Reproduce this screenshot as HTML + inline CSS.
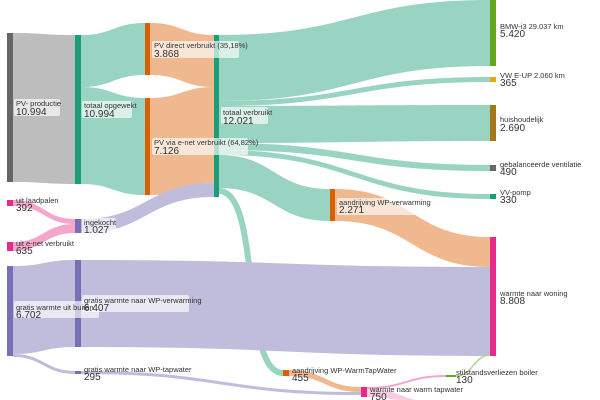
<!DOCTYPE html>
<html><head><meta charset="utf-8"><style>
body{margin:0;background:#fff}
svg{display:block;font-family:"Liberation Sans",Arial,sans-serif}
.n{font-size:7.5px;fill:#333}.v{font-size:10px;fill:#333}
</style></head><body>
<svg width="600" height="400" viewBox="0 0 600 400">
<g>
<path d="M13 33C44 33 44 35 75 35L75 184C44 184 44 182 13 182Z" fill="#bdbdbd"/>
<path d="M81 35C113 35 113 23 145 23L145 75C113 75 113 87 81 87Z" fill="#99d3c1"/>
<path d="M81 87C113 87 113 98 145 98L145 195C113 195 113 184 81 184Z" fill="#99d3c1"/>
<path d="M150 23C182 23 182 35 214 35L214 87C182 87 182 75 150 75Z" fill="#f0b88e"/>
<path d="M150 98C182 98 182 87 214 87L214 183C182 183 182 195 150 195Z" fill="#f0b88e"/>
<path d="M81 219C147 219 147 183 214 183L214 197C147 197 147 233 81 233Z" fill="#c0bcdc"/>
<path d="M13 200C44 200 44 219 75 219L75 224C44 224 44 206 13 206Z" fill="#f4a6cc"/>
<path d="M13 242C44 242 44 224 75 224L75 233C44 233 44 251 13 251Z" fill="#f4a6cc"/>
<path d="M219 35C354 35 354 0 490 0L490 66C354 66 354 101 219 101Z" fill="#99d3c1"/>
<path d="M219 101C354 101 354 77 490 77L490 82C354 82 354 106 219 106Z" fill="#99d3c1"/>
<path d="M219 106C354 106 354 105 490 105L490 141C354 141 354 143 219 143Z" fill="#99d3c1"/>
<path d="M219 143C354 143 354 165 490 165L490 171C354 171 354 150 219 150Z" fill="#99d3c1"/>
<path d="M219 150C354 150 354 194 490 194L490 199C354 199 354 155 219 155Z" fill="#99d3c1"/>
<path d="M219 155C274 155 274 189 330 189L330 221C274 221 274 188 219 188Z" fill="#99d3c1"/>
<path d="M219 191C262 191 240 373 283 373" fill="none" stroke="#99d3c1" stroke-width="6"/>
<path d="M335 189C412 189 412 237 490 237L490 267C412 267 412 221 335 221Z" fill="#f0b88e"/>
<path d="M81 260C285 260 285 267 490 267L490 356C285 356 285 347 81 347Z" fill="#c0bcdc"/>
<path d="M13 266C44 266 44 260 75 260L75 347C44 347 44 354 13 354Z" fill="#c0bcdc"/>
<path d="M13 355.5C44 355.5 44 372.5 75 372.5" fill="none" stroke="#c0bcdc" stroke-width="3"/>
<path d="M81 372.5C221 372.5 221 393.5 361 393.5" fill="none" stroke="#c0bcdc" stroke-width="3"/>
<path d="M289 370C325 370 325 387 361 387L361 392C325 392 325 376 289 376Z" fill="#f0b88e"/>
<path d="M367 388C406 388 406 376 446 376" fill="none" stroke="#f4a6cc" stroke-width="2"/>
<path d="M367 389C400 389 400 400 430 402L420 402C400 402 390 397 367 397Z" fill="#f8cce2"/>
<path d="M456 376C473 376 473 356 490 355" fill="none" stroke="#a8d68a" stroke-width="1.5"/>
</g>
<rect x="7" y="33" width="6" height="149" fill="#666"/>
<rect x="75" y="35" width="6" height="149" fill="#1b9e77"/>
<rect x="145" y="23" width="5" height="52" fill="#d95f02"/>
<rect x="145" y="98" width="5" height="97" fill="#d95f02"/>
<rect x="214" y="35" width="5" height="162" fill="#1b9e77"/>
<rect x="490" y="0" width="6" height="66" fill="#66a61e"/>
<rect x="490" y="77" width="6" height="5" fill="#e6ab02"/>
<rect x="490" y="105" width="6" height="36" fill="#a6761d"/>
<rect x="490" y="165" width="6" height="6" fill="#666"/>
<rect x="490" y="194" width="6" height="5" fill="#1b9e77"/>
<rect x="330" y="189" width="5" height="32" fill="#d95f02"/>
<rect x="490" y="237" width="6" height="119" fill="#e7298a"/>
<rect x="7" y="200" width="6" height="6" fill="#e7298a"/>
<rect x="7" y="242" width="6" height="9" fill="#e7298a"/>
<rect x="75" y="219" width="6" height="14" fill="#7570b3"/>
<rect x="7" y="266" width="6" height="90" fill="#7570b3"/>
<rect x="75" y="260" width="6" height="87" fill="#7570b3"/>
<rect x="75" y="371" width="6" height="3" fill="#7570b3"/>
<rect x="283" y="370" width="6" height="6" fill="#d95f02"/>
<rect x="361" y="387" width="6" height="10" fill="#e7298a"/>
<rect x="446" y="375" width="10" height="2" fill="#66a61e"/>
<g fill="#fff" fill-opacity="0.65">
<rect x="14" y="99" width="46" height="17" rx="2"/>
<rect x="82" y="101" width="50" height="17" rx="2"/>
<rect x="152" y="41" width="87" height="17" rx="2"/>
<rect x="152" y="138" width="96" height="17" rx="2"/>
<rect x="221" y="107" width="47" height="17" rx="2"/>
<rect x="82" y="218" width="34" height="17" rx="2"/>
<rect x="14" y="301" width="85" height="17" rx="2"/>
<rect x="82" y="295" width="107" height="17" rx="2"/>
<rect x="337" y="198" width="84" height="17" rx="2"/>
</g>
<g>
<text class="n" x="16" y="106">PV- productie</text><text class="v" x="16" y="115">10.994</text>
<text class="n" x="84" y="108">totaal opgewekt</text><text class="v" x="84" y="117">10.994</text>
<text class="n" x="154" y="48">PV direct verbruikt (35,18%)</text><text class="v" x="154" y="57">3.868</text>
<text class="n" x="154" y="145">PV via e-net verbruikt (64,82%)</text><text class="v" x="154" y="154">7.126</text>
<text class="n" x="223" y="115">totaal verbruikt</text><text class="v" x="223" y="124">12.021</text>
<text class="n" x="500" y="29">BMW-i3 29.037 km</text><text class="v" x="500" y="37">5.420</text>
<text class="n" x="500" y="78">VW E-UP 2.060 km</text><text class="v" x="500" y="86">365</text>
<text class="n" x="500" y="122">huishoudelijk</text><text class="v" x="500" y="131">2.690</text>
<text class="n" x="500" y="167">gebalanceerde ventilatie</text><text class="v" x="500" y="175">490</text>
<text class="n" x="500" y="195">VV-pomp</text><text class="v" x="500" y="203">330</text>
<text class="n" x="339" y="205">aandrijving WP-verwarming</text><text class="v" x="339" y="213">2.271</text>
<text class="n" x="500" y="296">warmte naar woning</text><text class="v" x="500" y="304">8.808</text>
<text class="n" x="16" y="203">uit laadpalen</text><text class="v" x="16" y="211">392</text>
<text class="n" x="16" y="246">uit e-net verbruikt</text><text class="v" x="16" y="254">635</text>
<text class="n" x="84" y="225">ingekocht</text><text class="v" x="84" y="233">1.027</text>
<text class="n" x="16" y="310">gratis warmte uit buiten</text><text class="v" x="16" y="318">6.702</text>
<text class="n" x="84" y="303">gratis warmte naar WP-verwarming</text><text class="v" x="84" y="311">6.407</text>
<text class="n" x="84" y="372">gratis warmte naar WP-tapwater</text><text class="v" x="84" y="380">295</text>
<text class="n" x="292" y="373">aandrijving WP-WarmTapWater</text><text class="v" x="292" y="381">455</text>
<text class="n" x="370" y="392">warmte naar warm tapwater</text><text class="v" x="370" y="400">750</text>
<text class="n" x="456" y="375">stilstandsverliezen boiler</text><text class="v" x="456" y="383">130</text>
</g>
</svg>
</body></html>
